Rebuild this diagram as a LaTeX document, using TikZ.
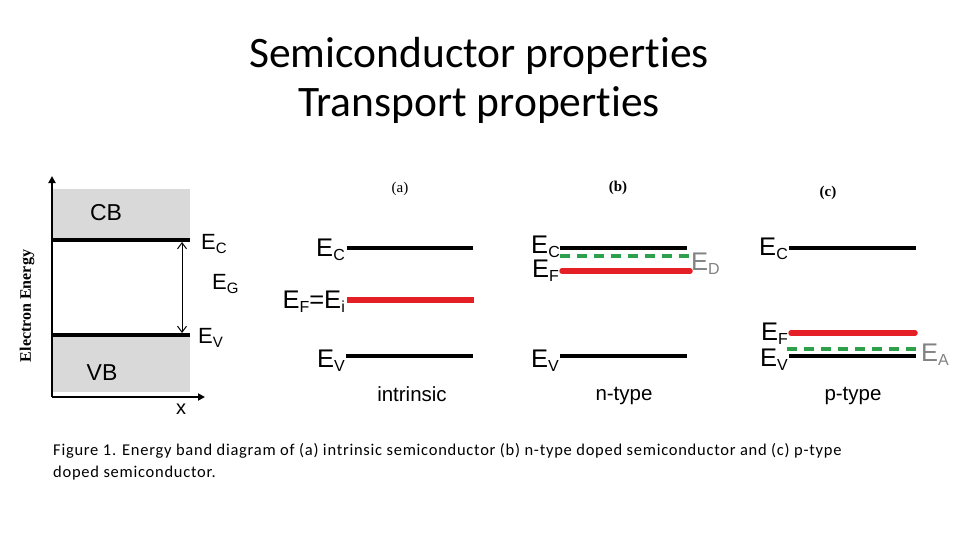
\documentclass[tikz,border=0pt]{standalone}
\usepackage{fontspec}
\setmainfont{Carlito}[Ligatures=NoCommon]
\newfontfamily\arialf{Liberation Sans}
\newfontfamily\timesf{Liberation Serif}
\usetikzlibrary{arrows.meta}
\definecolor{bandgray}{RGB}{217,217,217}
\definecolor{fermired}{RGB}{228,32,38}
\definecolor{dopegreen}{RGB}{45,160,75}
\definecolor{labgray}{RGB}{130,130,130}
\newcommand{\Elab}[1]{{\arialf\fontsize{25.5}{25.5}\selectfont E\raisebox{-4pt}{\fontsize{16}{16}\selectfont #1}}}
\newcommand{\Esm}[1]{{\arialf\fontsize{22}{22}\selectfont E\raisebox{-4pt}{\fontsize{15}{15}\selectfont #1}}}
\begin{document}
\begin{tikzpicture}[x=1pt,y=-1pt,
  blk/.style={line width=4pt},
  redl/.style={line width=5.5pt,color=fermired},
  grnl/.style={line width=3.5pt,color=dopegreen,dash pattern=on 10pt off 7pt},
  lab/.style={inner sep=0pt,anchor=base east},
  labr/.style={inner sep=0pt,anchor=base west,text=labgray},
  panel/.style={inner sep=0pt,font=\timesf\fontsize{15}{15}\selectfont},
  kind/.style={inner sep=0pt,anchor=base,font=\arialf\fontsize{20.5}{20.5}\selectfont},
  band/.style={inner sep=0pt,anchor=base,font=\arialf\fontsize{23}{23}\selectfont},
  capt/.style={inner sep=0pt,anchor=base west,font=\addfontfeatures{LetterSpace=4.5}\fontsize{16.5}{22}\selectfont}]
\useasboundingbox (0,0) rectangle (960,540);
\fill[white] (0,0) rectangle (960,540);
% title
\node[inner sep=0pt,anchor=base,font=\fontsize{43.5}{43.5}\selectfont] (t1) at (479,68) {Semiconductor properties};
\node[inner sep=0pt,anchor=base,font=\fontsize{43.5}{43.5}\selectfont] (t2) at (479,117) {Transport properties};
% left band diagram
\fill[bandgray] (52,189) rectangle (190,240);
\fill[bandgray] (52,335) rectangle (190,392);
\coordinate (ytip) at (52,176);
\coordinate (xtip) at (205,397);
\coordinate (org) at (52,397);
\draw[line width=2.5pt,-{Triangle[length=7pt,width=7pt]}] (org) -- (ytip);
\draw[line width=2.5pt,-{Triangle[length=7pt,width=7pt]}] (org) -- (xtip);
\coordinate (ecl) at (52,240); \coordinate (ecr) at (190,240);
\coordinate (evl) at (52,335); \coordinate (evr) at (190,335);
\draw[blk] (ecl) -- (ecr);
\draw[blk] (evl) -- (evr);
\coordinate (gt) at (182,242); \coordinate (gb) at (182,333);
\draw[line width=1pt,{Straight Barb[length=6pt,width=9pt]}-{Straight Barb[length=6pt,width=9pt]}] (gt) -- (gb);
\node[band] (cb) at (106,220) {CB};
\node[band] (vb) at (102,380) {VB};
\node[inner sep=0pt,anchor=base,font=\arialf\fontsize{20}{20}\selectfont] (xl) at (181,414) {x};
\node[inner sep=0pt,anchor=base west] (lec) at (201,249) {\Esm{C}};
\node[inner sep=0pt,anchor=base west] (leg) at (212,289) {\Esm{G}};
\node[inner sep=0pt,anchor=base west] (lev) at (198,343) {\Esm{V}};
\node[inner sep=0pt,rotate=90,font=\timesf\bfseries\fontsize{16}{16}\selectfont] (ee) at (27,306) {Electron Energy};
% panel a
\node[panel] (pa) at (400,189) {(a)};
\draw[blk] (347,248) -- (473,248);
\draw[redl] (347,300) -- (474,300);
\draw[blk] (346,356) -- (473,356);
\node[lab] (aec) at (345,256) {\Elab{C}};
\node[lab] (aef) at (345,308) {\Elab{F}{\arialf\fontsize{25.5}{25.5}\selectfont=}\Elab{i}};
\node[lab] (aev) at (345,367) {\Elab{V}};
\node[kind] (ai) at (412,401) {intrinsic};
% panel b
\node[panel,font=\timesf\bfseries\fontsize{15}{15}\selectfont] (pb) at (618,188) {(b)};
\draw[blk] (560,248) -- (687,248);
\draw[grnl] (560,256) -- (690,256);
\draw[redl,line cap=round] (562,271) -- (690,271);
\draw[blk] (560,356) -- (687,356);
\node[lab] (bec) at (560,253) {\Elab{C}};
\node[lab] (bef) at (559,277) {\Elab{F}};
\node[lab] (bev) at (559,367) {\Elab{V}};
\node[labr] (bed) at (691,270) {\Elab{D}};
\node[kind] (bn) at (624,400) {n-type};
% panel c
\node[panel,font=\timesf\bfseries\fontsize{15}{15}\selectfont] (pc) at (828,193) {(c)};
\draw[blk] (789,248) -- (916,248);
\draw[redl,line cap=round] (791,333) -- (915,333);
\draw[grnl] (787,349) -- (916,349);
\draw[blk] (789,356) -- (916,356);
\node[lab] (cec) at (788,255) {\Elab{C}};
\node[lab] (cef) at (788,340) {\Elab{F}};
\node[lab] (cev) at (788,366) {\Elab{V}};
\node[labr] (cea) at (921,361) {\Elab{A}};
\node[kind] (cp) at (853,400) {p-type};
% caption
\node[capt] (cap1) at (53,455) {Figure 1. Energy band diagram of (a) intrinsic semiconductor (b) n-type doped semiconductor and (c) p-type};
\node[capt] (cap2) at (53,477) {doped semiconductor.};
\end{tikzpicture}
\end{document}
